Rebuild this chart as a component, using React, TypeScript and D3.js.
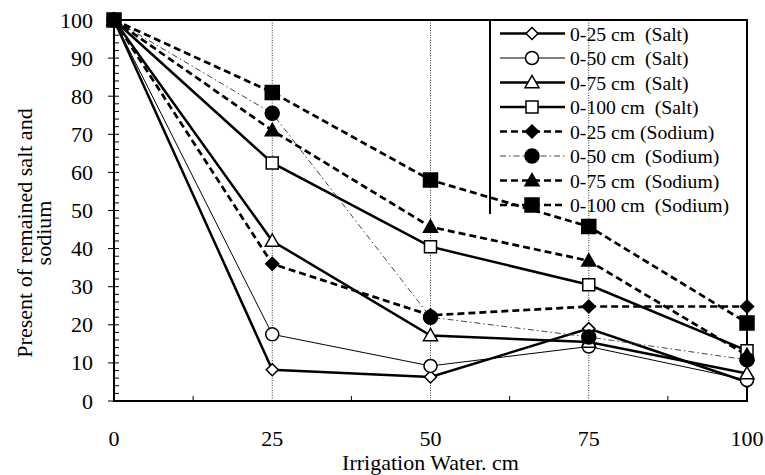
import { useEffect, useRef } from 'react';
import * as d3 from 'd3';

// irrigation water (cm) on the x axis
const water = [0, 25, 50, 75, 100];

// percent remained
const salt25 = [100, 8.2, 6.3, 19.0, 5.0];
const salt50 = [100, 17.5, 9.2, 14.3, 5.5];
const salt75 = [100, 42, 17.2, 15.5, 7.2];
const salt100 = [100, 62.5, 40.5, 30.5, 13.2];
const sodium25 = [100, 36, 22.5, 24.8, 24.8];
const sodium50 = [100, 75.5, 22, 16.8, 10.8];
const sodium75 = [100, 71, 45.7, 36.8, 12];
const sodium100 = [100, 81, 58, 45.8, 20.5];

const seriesNames = [
  '0-25 cm  (Salt)',
  '0-50 cm  (Salt)',
  '0-75 cm  (Salt)',
  '0-100 cm  (Salt)',
  '0-25 cm (Sodium)',
  '0-50 cm  (Sodium)',
  '0-75 cm  (Sodium)',
  '0-100 cm  (Sodium)',
];

const yTicks = [0, 10, 20, 30, 40, 50, 60, 70, 80, 90, 100];
const xTicks = [0, 25, 50, 75, 100];

type Marker = 'diamond' | 'circle' | 'triangle' | 'square';

interface SeriesStyle {
  marker: Marker;
  filled: boolean;
  size: number;
  width: number;
  dash: string | null;
  color: string;
}

const styles: SeriesStyle[] = [
  { marker: 'diamond', filled: false, size: 6, width: 2.5, dash: null, color: '#000' },
  { marker: 'circle', filled: false, size: 6.5, width: 1, dash: null, color: '#000' },
  { marker: 'triangle', filled: false, size: 7, width: 2.5, dash: null, color: '#000' },
  { marker: 'square', filled: false, size: 6, width: 2.5, dash: null, color: '#000' },
  { marker: 'diamond', filled: true, size: 6.5, width: 2.7, dash: '7,4', color: '#000' },
  { marker: 'circle', filled: true, size: 7, width: 1, dash: '6,3,1.5,3', color: '#444' },
  { marker: 'triangle', filled: true, size: 7, width: 2.7, dash: '7,4', color: '#000' },
  { marker: 'square', filled: true, size: 7, width: 2.7, dash: '7,4', color: '#000' },
];

const FONT = "'Liberation Serif', 'Times New Roman', Tinos, 'DejaVu Serif', serif";

function markerPath(m: Marker, r: number) {
  switch (m) {
    case 'diamond':
      return `M0,${-r}L${r},0L0,${r}L${-r},0Z`;
    case 'square':
      return `M${-r},${-r}H${r}V${r}H${-r}Z`;
    case 'triangle':
      return `M0,${-r}L${r},${r * 0.75}L${-r},${r * 0.75}Z`;
    default:
      return `M${r},0A${r},${r} 0 1,1 ${-r},0A${r},${r} 0 1,1 ${r},0Z`;
  }
}

export default function App() {
  const svgRef = useRef<SVGSVGElement>(null);

  useEffect(() => {
    if (!svgRef.current) return;
    const width = 765;
    const height = 475;
    const margin = { top: 20, right: 18, bottom: 74, left: 114 };
    const series = [salt25, salt50, salt75, salt100, sodium25, sodium50, sodium75, sodium100];

    d3.select(svgRef.current).selectAll('*').remove();
    const svg = d3
      .select(svgRef.current)
      .attr('width', width)
      .attr('height', height)
      .style('font-family', FONT);

    const x = d3.scaleLinear().domain([0, 100]).range([margin.left, width - margin.right]);
    const y = d3.scaleLinear().domain([0, 100]).range([height - margin.bottom, margin.top]);

    // vertical dotted gridlines
    svg
      .append('g')
      .selectAll('line')
      .data(xTicks.slice(1, -1))
      .join('line')
      .attr('x1', (d) => x(d))
      .attr('x2', (d) => x(d))
      .attr('y1', y(100))
      .attr('y2', y(0))
      .attr('stroke', '#333')
      .attr('stroke-width', 1)
      .attr('stroke-dasharray', '1,1.5');

    // plot border
    svg
      .append('rect')
      .attr('x', x(0))
      .attr('y', y(100))
      .attr('width', x(100) - x(0))
      .attr('height', y(0) - y(100))
      .attr('fill', 'none')
      .attr('stroke', '#000')
      .attr('stroke-width', 2);

    // y ticks: major outside, minor inside
    const yMinor = d3.range(0, 101, 2);
    svg
      .append('g')
      .selectAll('line')
      .data(yMinor)
      .join('line')
      .attr('x1', x(0))
      .attr('x2', x(0) + 5)
      .attr('y1', (d) => y(d))
      .attr('y2', (d) => y(d))
      .attr('stroke', '#000')
      .attr('stroke-width', 1);
    svg
      .append('g')
      .selectAll('line')
      .data(yTicks)
      .join('line')
      .attr('x1', x(0) - 6)
      .attr('x2', x(0))
      .attr('y1', (d) => y(d))
      .attr('y2', (d) => y(d))
      .attr('stroke', '#000')
      .attr('stroke-width', 1);
    svg
      .append('g')
      .selectAll('text')
      .data(yTicks)
      .join('text')
      .attr('x', 93)
      .attr('y', (d) => y(d))
      .attr('text-anchor', 'end')
      .attr('dominant-baseline', 'central')
      .attr('font-size', 22)
      .text((d) => d);

    // x minor ticks
    svg
      .append('g')
      .selectAll('line')
      .data([12.5, 37.5, 62.5, 87.5])
      .join('line')
      .attr('x1', (d) => x(d))
      .attr('x2', (d) => x(d))
      .attr('y1', y(0))
      .attr('y2', y(0) - 5)
      .attr('stroke', '#000')
      .attr('stroke-width', 1);
    svg
      .append('g')
      .selectAll('text')
      .data(xTicks)
      .join('text')
      .attr('x', (d) => x(d))
      .attr('y', 446)
      .attr('text-anchor', 'middle')
      .attr('font-size', 22)
      .text((d) => d);

    // axis titles
    svg
      .append('text')
      .attr('x', (x(0) + x(100)) / 2)
      .attr('y', 470)
      .attr('text-anchor', 'middle')
      .attr('font-size', 22)
      .text('Irrigation Water. cm');
    const yTitle = svg
      .append('text')
      .attr('transform', 'translate(32, 233) rotate(-90)')
      .attr('text-anchor', 'middle')
      .attr('font-size', 22);
    yTitle.append('tspan').attr('x', 0).attr('y', 0).text('Present of remained salt and');
    yTitle.append('tspan').attr('x', 0).attr('y', 18.5).text('sodium');

    const line = d3
      .line<number>()
      .x((_, i) => x(water[i]))
      .y((d) => y(d));

    // lines
    series.forEach((vals, i) => {
      const s = styles[i];
      svg
        .append('path')
        .datum(vals)
        .attr('d', line)
        .attr('fill', 'none')
        .attr('stroke', s.color)
        .attr('stroke-width', s.width)
        .attr('stroke-dasharray', s.dash)
        .attr('stroke-linejoin', 'miter');
    });

    // markers
    series.forEach((vals, i) => {
      const s = styles[i];
      svg
        .append('g')
        .selectAll('path')
        .data(vals)
        .join('path')
        .attr('transform', (d, j) => `translate(${x(water[j])},${y(d)})`)
        .attr('d', markerPath(s.marker, s.size))
        .attr('fill', s.filled ? '#000' : '#fff')
        .attr('stroke', '#000')
        .attr('stroke-width', 1.5);
    });

    // legend
    const lg = svg.append('g');
    lg.append('line')
      .attr('x1', 490)
      .attr('x2', 490)
      .attr('y1', y(100))
      .attr('y2', 214)
      .attr('stroke', '#000')
      .attr('stroke-width', 2);
    seriesNames.forEach((name, i) => {
      const s = styles[i];
      const ry = 33.5 + i * 24.5;
      lg.append('line')
        .attr('x1', 500)
        .attr('x2', 565)
        .attr('y1', ry)
        .attr('y2', ry)
        .attr('stroke', s.color)
        .attr('stroke-width', s.width)
        .attr('stroke-dasharray', s.dash);
      lg.append('path')
        .attr('transform', `translate(532,${ry})`)
        .attr('d', markerPath(s.marker, s.size))
        .attr('fill', s.filled ? '#000' : '#fff')
        .attr('stroke', '#000')
        .attr('stroke-width', 1.5);
      lg.append('text')
        .attr('x', 570)
        .attr('y', ry)
        .attr('dominant-baseline', 'central')
        .attr('font-size', 19.7)
        .style('white-space', 'pre')
        .text(name);
    });
  }, []);

  return (
    <div style={{ position: 'absolute', left: 0, top: 0, background: '#fff' }}>
      <svg ref={svgRef} style={{ display: 'block' }} />
    </div>
  );
}
